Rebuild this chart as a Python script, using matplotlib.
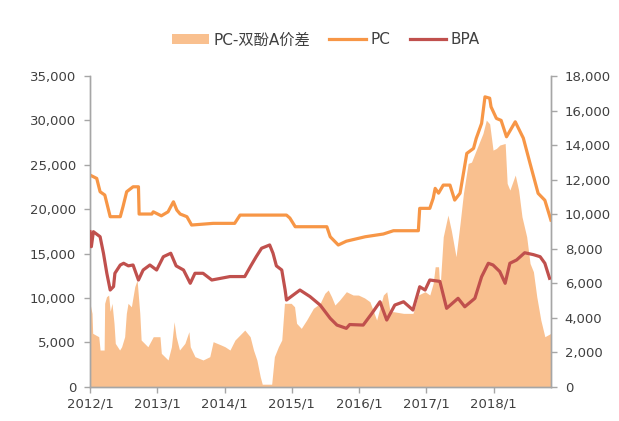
import matplotlib
matplotlib.use("Agg")
import matplotlib.pyplot as plt
from matplotlib.patches import Patch
from matplotlib.lines import Line2D
from matplotlib.ticker import FuncFormatter

plt.rcParams['font.family'] = ['DejaVu Sans', 'Noto Sans CJK SC']

# x = years after 2012/1
pc_t = [0, 0.10, 0.15, 0.22, 0.30, 0.45, 0.49, 0.545, 0.64, 0.72,
        0.73, 0.92, 0.94, 1.06, 1.16, 1.20, 1.24, 1.29, 1.34, 1.44,
        1.51, 1.83, 2.15, 2.23, 2.92, 2.97, 3.05, 3.52, 3.57, 3.69,
        3.81, 4.09, 4.36, 4.51, 4.88, 4.90, 5.05, 5.10, 5.13, 5.18,
        5.25, 5.35, 5.42, 5.50, 5.55, 5.60, 5.70, 5.74, 5.82, 5.87,
        5.94, 5.96, 6.04, 6.11, 6.19, 6.32, 6.44, 6.54, 6.66, 6.76, 6.85]
pc_v = [23840, 23460, 21960, 21590, 19150, 19150, 20270, 21960, 22520, 22520,
        19450, 19450, 19700, 19250, 19700, 20270, 20830, 19900, 19450, 19150,
        18210, 18400, 18400, 19330, 19330, 19000, 18020, 18020, 16890, 15960,
        16390, 16890, 17200, 17570, 17570, 20090, 20090, 21210, 22340, 21800,
        22710, 22710, 21020, 21800, 24030, 26280, 26840, 27970, 29660, 32650,
        32500, 31530, 30220, 30000, 28150, 29840, 28000, 25150, 21780, 21000, 18770]

bpa_t = [0, 0.02, 0.05, 0.15, 0.20, 0.25, 0.30, 0.35, 0.37, 0.45,
         0.50, 0.57, 0.64, 0.72, 0.79, 0.89, 0.99, 1.09, 1.20, 1.28,
         1.39, 1.49, 1.56, 1.68, 1.81, 2.08, 2.30, 2.39, 2.47, 2.55,
         2.67, 2.72, 2.77, 2.85, 2.90, 2.92, 3.02, 3.12, 3.27, 3.42,
         3.57, 3.67, 3.81, 3.86, 4.06, 4.19, 4.31, 4.41, 4.53, 4.66,
         4.80, 4.90, 4.98, 5.05, 5.20, 5.30, 5.47, 5.57, 5.72, 5.82,
         5.92, 5.99, 6.09, 6.17, 6.24, 6.34, 6.46, 6.59, 6.69, 6.76, 6.83]
bpa_v = [8980, 8110, 8980, 8690, 7730, 6570, 5600, 5800, 6570, 7050,
         7150, 7000, 7050, 6180, 6760, 7050, 6760, 7530, 7730, 7000,
         6760, 5990, 6570, 6570, 6180, 6380, 6380, 7000, 7530, 8020,
         8210, 7730, 7000, 6760, 5600, 5020, 5310, 5600, 5220, 4730,
         3960, 3570, 3380, 3600, 3570, 4250, 4920, 3860, 4730, 4920,
         4440, 5790, 5600, 6180, 6100, 4540, 5120, 4630, 5120, 6370,
         7150, 7050, 6670, 5990, 7150, 7340, 7760, 7650, 7530, 7150, 6280]

spread_t = [0.00, 0.03, 0.04, 0.13, 0.15, 0.21, 0.218, 0.245, 0.277, 0.30,
            0.327, 0.357, 0.376, 0.44, 0.47, 0.515, 0.54, 0.565, 0.615, 0.665,
            0.70, 0.74, 0.76, 0.86, 0.94, 1.04, 1.06, 1.16, 1.21, 1.25,
            1.28, 1.33, 1.41, 1.47, 1.49, 1.56, 1.68, 1.78, 1.83, 1.95,
            2.006, 2.08, 2.155, 2.30, 2.38, 2.43, 2.48, 2.53, 2.56, 2.70,
            2.74, 2.80, 2.85, 2.89, 2.99, 3.04, 3.07, 3.14, 3.22, 3.32,
            3.42, 3.49, 3.54, 3.59, 3.64, 3.71, 3.81, 3.91, 3.99, 4.08,
            4.16, 4.26, 4.36, 4.41, 4.46, 4.51, 4.66, 4.80, 4.88, 4.98,
            5.05, 5.10, 5.13, 5.18, 5.20, 5.25, 5.32, 5.37, 5.44, 5.50,
            5.55, 5.62, 5.67, 5.74, 5.84, 5.89, 5.94, 5.99, 6.04, 6.09,
            6.17, 6.20, 6.24, 6.32, 6.37, 6.42, 6.49, 6.54, 6.59, 6.64,
            6.70, 6.76, 6.80, 6.85]
spread_v = [9390, 8260, 6010, 5630, 4130, 4130, 9390, 10130, 10320, 8500,
            9390, 7140, 4880, 4130, 4500, 5630, 8260, 9390, 9000, 11260,
            12010, 8260, 5260, 4500, 5630, 5630, 3760, 3010, 4500, 7320,
            5630, 4130, 4880, 6200, 4500, 3380, 3010, 3380, 5070, 4690,
            4500, 4130, 5260, 6380, 5630, 4130, 3010, 1130, 280, 280,
            3380, 4500, 5260, 9390, 9390, 9000, 7140, 6570, 7510, 8830,
            9390, 10520, 10890, 10130, 9200, 9760, 10700, 10330, 10320, 10000,
            9570, 7510, 10330, 10700, 8450, 8450, 8260, 8260, 10330, 10700,
            10330, 11640, 13510, 13510, 10890, 16890, 19330, 17600, 14640, 18400,
            21780, 25150, 25300, 26650, 28530, 30030, 29600, 26650, 26840, 27220,
            27400, 22900, 22150, 23840, 22150, 19150, 16890, 13890, 12950, 10130,
            7510, 5630, 5800, 6010]

years = [2012, 2013, 2014, 2015, 2016, 2017, 2018]
year_labels = [f"{y}/1" for y in years]

c_area = "#F9C08F"
c_pc = "#F79646"
c_bpa = "#C0504D"
c_axis = "#A6A6A6"
c_text = "#404040"

fig = plt.figure(figsize=(6.19, 4.21), dpi=100)
ax = fig.add_axes([0.1454, 0.0815, 0.7446, 0.738])
ax2 = ax.twinx()

x_sp = [2012 + t for t in spread_t]
x_pc = [2012 + t for t in pc_t]
x_bpa = [2012 + t for t in bpa_t]

ax.fill_between(x_sp, 0, spread_v, color=c_area, linewidth=0, zorder=1)
ax.plot(x_pc, pc_v, color=c_pc, lw=2.3, zorder=3)
ax2.plot(x_bpa, bpa_v, color=c_bpa, lw=2.3, zorder=3)

ax.set_xlim(2012, 2012 + 6.85)
ax.set_ylim(0, 35000)
ax2.set_ylim(0, 18000)
ax.set_yticks(range(0, 35001, 5000))
ax2.set_yticks(range(0, 18001, 2000))
ax.set_xticks(years)
ax.set_xticklabels(year_labels)

fmt = FuncFormatter(lambda v, p: f"{int(v):,}")
ax.yaxis.set_major_formatter(fmt)
ax2.yaxis.set_major_formatter(fmt)

for a in (ax, ax2):
    a.spines['top'].set_visible(False)
    for s in ('left', 'right', 'bottom'):
        a.spines[s].set_color(c_axis)
        a.spines[s].set_linewidth(1.0)
    a.tick_params(axis='both', colors=c_axis, labelcolor=c_text,
                  labelsize=9.5, length=4, width=1, direction='out')
ax.tick_params(axis='y', pad=6)
ax2.tick_params(axis='y', pad=6)
ax.tick_params(axis='x', pad=4)

handles = [Patch(facecolor=c_area, edgecolor='none'),
           Line2D([], [], color=c_pc, lw=2.3),
           Line2D([], [], color=c_bpa, lw=2.3)]
fig.legend(handles, ["PC-双酚A价差", "PC", "BPA"], loc='center',
           bbox_to_anchor=(0.527, 0.905), ncol=3, frameon=False,
           fontsize=11, handlelength=2.4, columnspacing=1.25,
           handletextpad=0.3, labelcolor=c_text)

fig.savefig("out.png", dpi=100)
